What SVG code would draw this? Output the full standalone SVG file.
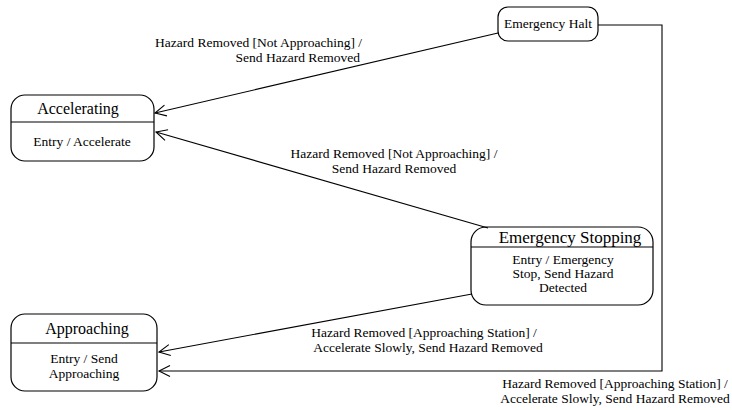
<svg xmlns="http://www.w3.org/2000/svg" width="732" height="410" viewBox="0 0 732 410">
  <style>
    .box { fill: #ffffff; stroke: #000000; stroke-width: 1.2; }
    .div { stroke: #000000; stroke-width: 1.2; }
    .title { font-family: "Liberation Serif", "Times New Roman", serif; font-size: 16px; fill: #000000; text-anchor: middle; }
    .txt { font-family: "Liberation Serif", "Times New Roman", serif; font-size: 13.5px; fill: #000000; text-anchor: middle; }
    .edge { fill: none; stroke: #000000; stroke-width: 1.1; marker-end: url(#open); }
  </style>
  <defs>
    <marker id="open" viewBox="-12 -7 14 14" refX="0" refY="0" markerWidth="14" markerHeight="14" markerUnits="userSpaceOnUse" orient="auto">
      <path d="M-11,-5.5 L0,0 L-11,5.5" fill="none" stroke="#000000" stroke-width="1.1"/>
    </marker>
  </defs>

  <rect width="732" height="410" fill="#ffffff"/>

  <!-- states -->
  <g id="accelerating">
    <rect class="box" x="11" y="95" width="143" height="66" rx="14"/>
    <line class="div" x1="11" y1="122" x2="154" y2="122"/>
    <text class="title" x="78" y="114">Accelerating</text>
    <text class="txt" x="82" y="146">Entry / Accelerate</text>
  </g>

  <g id="emergency-halt">
    <rect class="box" x="498" y="7" width="100" height="34" rx="10"/>
    <text class="txt" x="548" y="28">Emergency Halt</text>
  </g>

  <g id="emergency-stopping">
    <rect class="box" x="471" y="227" width="182" height="78" rx="15"/>
    <line class="div" x1="471" y1="247" x2="653" y2="247"/>
    <text class="title" x="570" y="243" style="font-size:17px">Emergency Stopping</text>
    <text class="txt" x="563" y="264">Entry / Emergency</text>
    <text class="txt" x="563" y="278">Stop, Send Hazard</text>
    <text class="txt" x="563" y="292">Detected</text>
  </g>

  <g id="approaching">
    <rect class="box" x="11" y="314" width="146" height="77" rx="14"/>
    <line class="div" x1="11" y1="343" x2="157" y2="343"/>
    <text class="title" x="87" y="334">Approaching</text>
    <text class="txt" x="84" y="363">Entry / Send</text>
    <text class="txt" x="84" y="378">Approaching</text>
  </g>

  <!-- transitions -->
  <g id="connectors">
    <path class="edge" d="M498,33 L155,113"/>
    <path class="edge" d="M488,228 L156,132"/>
    <path class="edge" d="M472,294 L159,352"/>
    <path class="edge" d="M598,25 L662,25 L662,371 L159,371"/>

    <text class="txt" style="text-anchor:end" x="362" y="47">Hazard Removed [Not Approaching] /</text>
    <text class="txt" style="text-anchor:end" x="360" y="62">Send Hazard Removed</text>

    <text class="txt" x="394" y="158">Hazard Removed [Not Approaching] /</text>
    <text class="txt" x="394" y="173">Send Hazard Removed</text>

    <text class="txt" x="424" y="337">Hazard Removed [Approaching Station] /</text>
    <text class="txt" x="428" y="352">Accelerate Slowly, Send Hazard Removed</text>

    <text class="txt" x="615" y="388">Hazard Removed [Approaching Station] /</text>
    <text class="txt" x="615" y="403">Accelerate Slowly, Send Hazard Removed</text>
  </g>
</svg>
